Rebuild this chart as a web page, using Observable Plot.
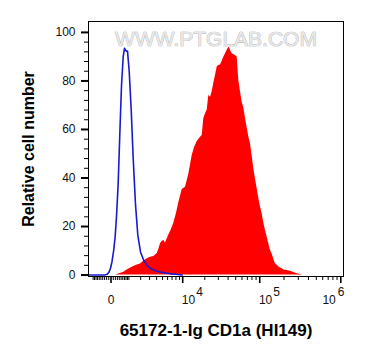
<!DOCTYPE html>
<html><head><meta charset="utf-8">
<script src="https://cdn.jsdelivr.net/npm/d3@7"></script>
<script src="https://cdn.jsdelivr.net/npm/@observablehq/plot@0.6"></script>
<style>body{margin:0;background:#fff}</style>
</head><body><div id="chart"></div>
<script>
// CD1a stained (red, filled)
const redX = [206, 413, 662, 903, 1247, 1604, 1977, 2341, 2706, 3119,
  3572, 4086, 4345, 4633, 4936, 5234, 5567, 6259, 6758, 7439,
  8150, 8799, 9839, 10950, 12167, 13547, 14559, 15833, 17528, 18465,
  19389, 20417, 21496, 22560, 23744, 24989, 26215, 27580, 29010, 30421,
  31991, 33443, 34648, 36533, 38976, 40848, 42061, 43565, 45118, 47275,
  49675, 52195, 53423, 54679, 57442, 60342, 63203, 66384, 69730, 73025,
  76690, 80536, 84330, 88551, 92978, 97348, 102220, 107321, 112355, 117954,
  123830, 129624, 136070, 142850, 149525, 156955, 164753, 172444, 189985, 198846,
  219047, 240586, 264222, 291019, 319626, 348050];
const redY = [0, 0.5, 1.2, 2.2, 3.2, 4.0, 4.6, 5.8, 6.7, 7.3,
  7.6, 8.9, 10.5, 12.9, 13.9, 14.2, 13.2, 16.5, 18.4, 21.3,
  25.5, 29.8, 35.3, 36.2, 41.5, 49.3, 52.5, 55.0, 56.8, 57.5,
  64.5, 66.5, 68.0, 74.0, 73.3, 75.5, 79.0, 82.3, 85.7, 86.4,
  86.6, 88.0, 89.2, 90.8, 92.6, 93.9, 93.5, 92.0, 91.2, 90.8,
  90.5, 89.8, 85.0, 80.2, 75.5, 71.0, 69.0, 64.5, 60.5, 57.0,
  54.0, 49.0, 43.8, 39.5, 35.5, 31.5, 28.0, 25.2, 21.5, 18.4,
  15.6, 12.8, 10.1, 8.7, 6.5, 4.6, 4.0, 3.3, 2.6, 2.1,
  1.9, 1.6, 1.0, 0.5, 0.2, 0];
// isotype control (blue line)
const blueX = [-1350, -525, -306, -172, -88, -22, 43, 125, 191, 255,
  343, 429, 525, 625, 706, 815, 903, 1022, 1170, 1326,
  1517, 1721, 1977, 2319, 2706, 3119, 3823, 4633, 6642, 7881, 9839];
const blueY = [0, 0, 0, 0.3, 1.2, 2.8, 5.5, 10.5, 16, 24,
  38, 58, 78, 90, 93.5, 92.3, 92.3, 84, 68, 48,
  29, 16.5, 9.5, 6, 3.9, 2.7, 1.8, 1.2, 0.5, 0.3, 0];

const yMajor = [0, 20, 40, 60, 80, 100];
const yLabels = ["0", "20", "40", "60", "80", "100"];
const yMinor = [4, 8, 12, 16, 24, 28, 32, 36, 44, 48, 52, 56, 64, 68, 72, 76, 84, 88, 92, 96];
const xMajor = [0, 10000, 100000, 1000000];
const xLabelBase = ["0", "10", "10", "10"];
const xLabelExp = ["", "4", "5", "6"];
const xMinor = [-1000, -900, -800, -700, -600, -500, -400, -300, -200, -100,
  100, 200, 300, 400, 500, 600, 700, 800, 900,
  1000, 2000, 3000, 4000, 5000, 6000, 7000, 8000, 9000,
  20000, 30000, 40000, 50000, 60000, 70000, 80000, 90000,
  200000, 300000, 400000, 500000, 600000, 700000, 800000, 900000];
const xTitle = "65172-1-Ig CD1a (HI149)";
const yTitle = "Relative cell number";
const watermark = "WWW.PTGLAB.COM";

const red = redX.map((x, i) => ({x, y: redY[i]}));
const blue = blueX.map((x, i) => ({x, y: blueY[i]}));
const ticks = xMajor.map((v, i) => ({v, base: xLabelBase[i], exp: xLabelExp[i]}));
const yticks = yMajor.map((v, i) => ({v, label: yLabels[i]}));
const font = "Liberation Sans, Arial, Helvetica, sans-serif";
const FH = 255; // frame height in px (360 - 21 - 84)
const FW = 255; // frame width in px (365 - 88 - 22)

const chart = Plot.plot({
  width: 365, height: 360,
  marginLeft: 88, marginRight: 22, marginTop: 21, marginBottom: 84,
  style: {fontFamily: font, background: "white", color: "black"},
  x: {type: "symlog", constant: 1520, domain: [-1350, 1080000], axis: null},
  y: {domain: [-0.6, 104.5], axis: null},
  marks: [
    Plot.text([watermark], {frameAnchor: "top", dy: 17.5, lineAnchor: "middle", textAnchor: "middle", fontSize: 21, fill: "#e8e8e8", stroke: "#a8a8a8", strokeWidth: 0.7, fontFamily: font}),
    Plot.areaY(red, {x: "x", y: "y", fill: "#ff0000"}),
    Plot.line(blue, {x: "x", y: "y", stroke: "#1a1ad0", strokeWidth: 1.6}),
    Plot.frame({stroke: "black", strokeWidth: 1}),
    // y ticks
    Plot.ruleY(yMajor, {insetLeft: -7, insetRight: FW, stroke: "black", strokeWidth: 2}),
    Plot.ruleY(yMinor, {insetLeft: -4, insetRight: FW, stroke: "black", strokeWidth: 1}),
    Plot.text(yticks, {y: "v", text: "label", frameAnchor: "left", dx: -13, textAnchor: "end", fontSize: 12, fill: "#111"}),
    // x ticks
    Plot.ruleX(xMajor, {insetTop: FH, insetBottom: -7, stroke: "black", strokeWidth: 1.6}),
    Plot.ruleX(xMinor, {insetTop: FH, insetBottom: -4, stroke: "black", strokeWidth: 1}),
    Plot.text(ticks.filter(d => d.v === 0), {x: "v", text: "base", frameAnchor: "bottom", dy: 19, lineAnchor: "top", textAnchor: "middle", fontSize: 12, fill: "#111"}),
    Plot.text(ticks.filter(d => d.v > 0 && d.v < 1e6), {x: "v", text: "base", frameAnchor: "bottom", dy: 19, dx: 12.5, lineAnchor: "top", textAnchor: "end", fontSize: 12, fill: "#111"}),
    Plot.text(ticks.filter(d => d.v > 0 && d.v < 1e6), {x: "v", text: "exp", frameAnchor: "bottom", dy: 11, dx: 13.5, lineAnchor: "top", textAnchor: "start", fontSize: 12, fill: "#111"}),
    Plot.text(ticks.filter(d => d.v >= 1e6), {x: "v", text: "base", frameAnchor: "bottom", dy: 19, dx: -5, lineAnchor: "top", textAnchor: "end", fontSize: 12, fill: "#111"}),
    Plot.text(ticks.filter(d => d.v >= 1e6), {x: "v", text: "exp", frameAnchor: "bottom", dy: 11, dx: -3, lineAnchor: "top", textAnchor: "start", fontSize: 12, fill: "#111"}),
    // titles
    Plot.text([xTitle], {frameAnchor: "bottom", dy: 54, lineAnchor: "middle", textAnchor: "middle", fontSize: 17, fontWeight: "bold", fill: "black"}),
    Plot.text([yTitle], {frameAnchor: "left", dx: -60, rotate: -90, lineAnchor: "middle", textAnchor: "middle", fontSize: 16, fontWeight: "bold", fill: "black"})
  ]
});
document.getElementById("chart").appendChild(chart);
</script>
</body></html>
